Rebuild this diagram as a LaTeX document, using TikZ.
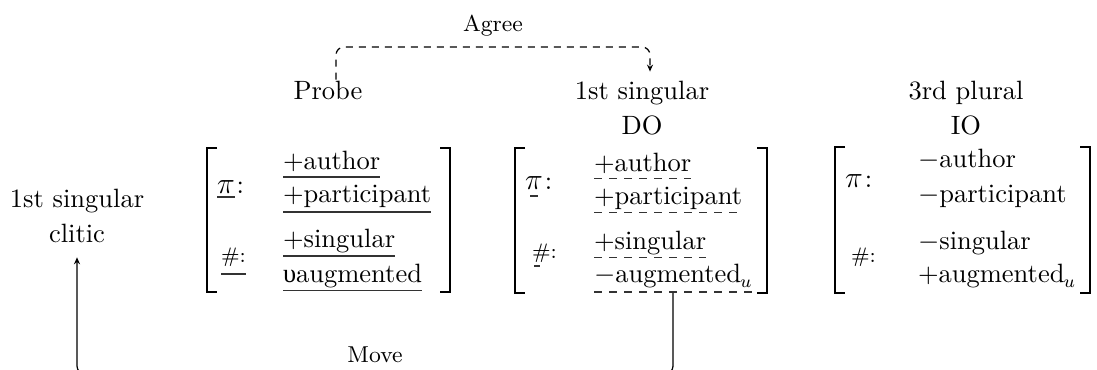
\documentclass[tikz,border=0pt]{standalone}
\usepackage{fontspec}
\newfontfamily\grk{Liberation Serif}
\usetikzlibrary{arrows.meta}
\begin{document}
\begin{tikzpicture}[x=0.4pt,y=-0.4pt,
  every node/.style={inner sep=0pt,outer sep=0pt,font=\fontsize{10.6}{12}\selectfont},
  lbl/.style={anchor=base},
  small/.style={anchor=base,font=\fontsize{9.2}{11}\selectfont},
  feat/.style={anchor=base west},
  hash/.style={anchor=base west,font=\fontsize{8.4}{9}\selectfont},
  brk/.style={line width=0.8pt},
  ul/.style={line width=0.45pt,black!80},
  dul/.style={ul,dash pattern=on 3.2pt off 2.8pt},
  pdash/.style={ul,dash pattern=on 3.2pt off 2.8pt,dash phase=4pt},
  tip/.style={-{Stealth[length=2.8pt,width=2.4pt]}},
  conn/.style={tip,line width=0.5pt,rounded corners=3.2pt}]
\useasboundingbox (0,0) rectangle (1097,370);
\clip (0,0) rectangle (1097,370);

% labels
\node[small] (agree) at (493,32) {Agree};
\node[lbl] (probe) at (328,100) {Probe};
\node[lbl] (do1) at (642,100) {1st singular};
\node[lbl] (do2) at (642,135) {DO};
\node[lbl] (io1) at (966,100) {3rd plural};
\node[lbl] (io2) at (966,135) {IO};
\node[lbl] (cl1) at (77,208) {1st singular};
\node[lbl] (cl2) at (77,243) {clitic};
\node[small] (move) at (375,363) {Move};

% Probe AVM
\draw[brk] (217,148) -- (207,148) -- (207,292) -- (217,292);
\draw[brk] (440,148) -- (450,148) -- (450,292) -- (440,292);
\node[feat] (ppi) at (217,194) {\fontsize{13}{14}\selectfont$\pi$};
\node[anchor=base west] (pcol) at ([xshift=0.8pt]ppi.base east) {:};
\node[hash] (pnum) at (221,263) {\#:};
\node[feat] (pa) at (283,170) {+author};
\node[feat] (pp) at (283,203) {+participant};
\node[feat] (ps) at (283,248) {+singular};
\node[feat] (pg) at (283,283) {{\grk υ}augmented};
\draw[ul] ([yshift=-1.2pt]ppi.base west) -- ([yshift=-1.2pt]ppi.base east);
\draw[ul] ([yshift=-4.4pt]pnum.base west) -- ([yshift=-4.4pt]pnum.base east);
\draw[ul] ([yshift=-2.8pt]pa.base west) -- ([yshift=-2.8pt]pa.base east);
\draw[ul] ([yshift=-3.6pt]pp.base west) -- ([yshift=-3.6pt]pp.base east);
\draw[ul] ([yshift=-3.2pt]ps.base west) -- ([yshift=-3.2pt]ps.base east);
\draw[ul] ([yshift=-3.0pt]pg.base west) -- ([yshift=-3.0pt]pg.base east);

% DO AVM
\draw[brk] (525,148) -- (515,148) -- (515,293) -- (525,293);
\draw[brk] (757,148) -- (767,148) -- (767,293) -- (757,293);
\node[feat] (dpi) at (525,190) {\fontsize{13}{14}\selectfont$\pi$};
\node[anchor=base west] (dcol) at ([xshift=0.8pt]dpi.base east) {:};
\node[hash] (dnum) at (532,259) {\#:};
\node[feat] (da) at (594,172) {+author};
\node[feat] (dp) at (594,205) {+participant};
\node[feat] (ds) at (594,250) {+singular};
\node[feat] (dg) at (594,283) {$-$augmented\kern-0.5pt$_u$};
\draw[pdash] ([yshift=-2.4pt]dpi.base west) -- ([yshift=-2.4pt]dpi.base east);
\draw[ul] ([yshift=-2.8pt,xshift=0.8pt]dnum.base west) -- ([yshift=-2.8pt,xshift=3.2pt]dnum.base west);
\draw[dul] ([yshift=-2.6pt]da.base west) -- ([yshift=-2.6pt]da.base east);
\draw[dul] ([yshift=-3.0pt]dp.base west) -- ([yshift=-3.0pt]dp.base east);
\draw[dul] ([yshift=-3.0pt]ds.base west) -- ([yshift=-3.0pt]ds.base east);
\draw[dul] ([yshift=-3.6pt]dg.base west) -- ([yshift=-3.6pt]dg.base east);

% IO AVM
\draw[brk] (845,147) -- (835,147) -- (835,293) -- (845,293);
\draw[brk] (1080,147) -- (1090,147) -- (1090,293) -- (1080,293);
\node[feat] (ipi) at (845,188) {\fontsize{13}{14}\selectfont$\pi$};
\node[anchor=base west] (icol) at ([xshift=0.8pt]ipi.base east) {:};
\node[hash] (inum) at (851,263) {\#:};
\node[feat] (ia) at (918,168) {$-$author};
\node[feat] (ip) at (918,203) {$-$participant};
\node[feat] (is) at (918,250) {$-$singular};
\node[feat] (ig) at (918,283) {+augmented\kern-0.5pt$_u$};

% Agree connector
\coordinate (agtop) at (493,47);
\draw[conn,dash pattern=on 2.8pt off 2.4pt] ([xshift=3.2pt,yshift=0.8pt]probe.north) |- (agtop) -| ([xshift=3.2pt,yshift=4pt]do1.north);

% Move connector
\coordinate (mvs) at (673,293);
\coordinate (mvbot) at (375,374);
\draw[conn] (mvs) |- (mvbot) -| ([yshift=-5.6pt]cl2.south);
\end{tikzpicture}
\end{document}
